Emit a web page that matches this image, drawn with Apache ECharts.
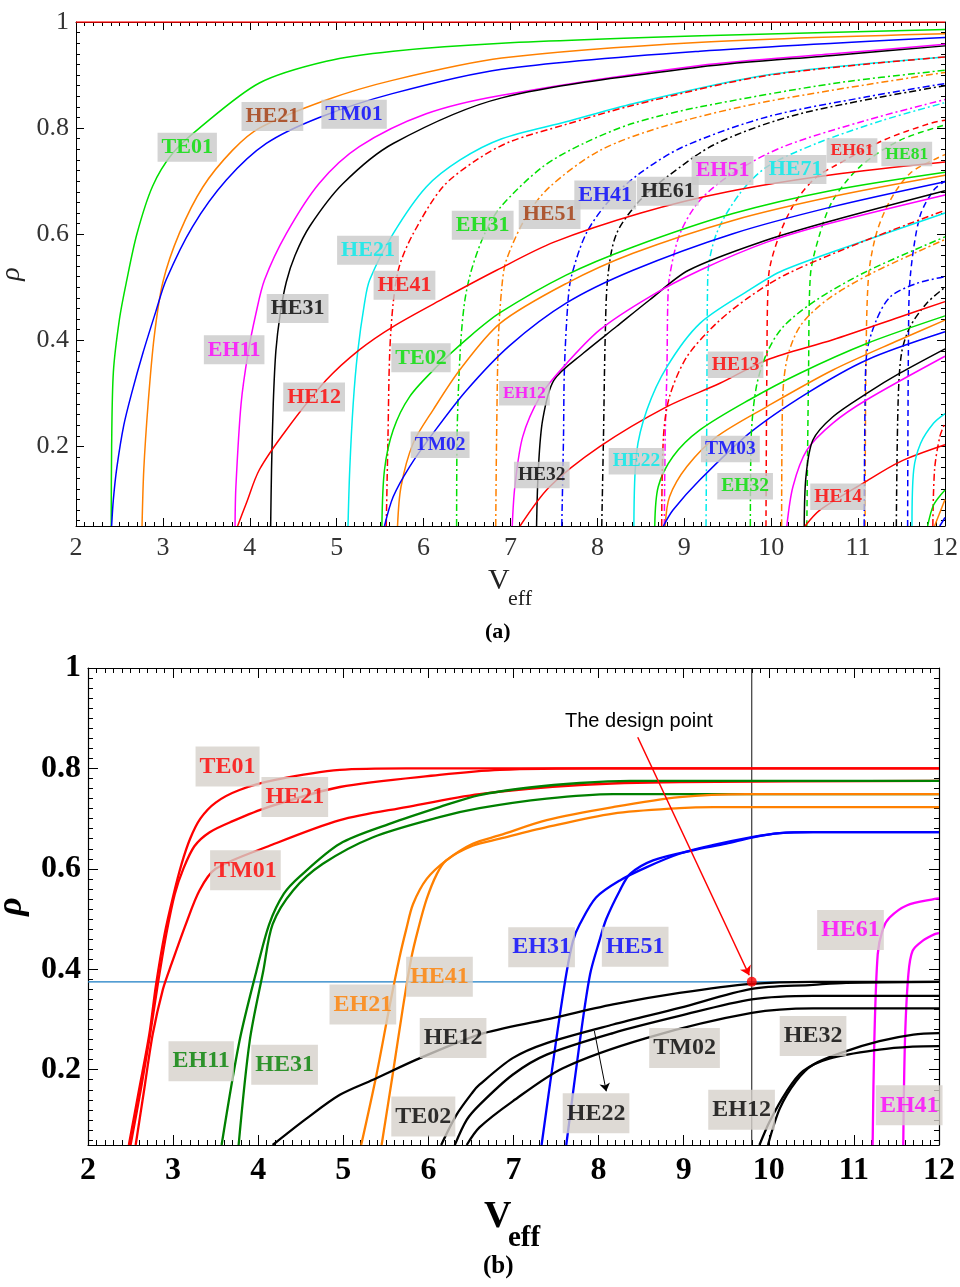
<!DOCTYPE html>
<html><head><meta charset="utf-8">
<script src="https://cdn.jsdelivr.net/npm/echarts@6.0.0/dist/echarts.min.js"></script>
<style>html,body{margin:0;padding:0;background:#fff}#c{width:960px;height:1287px}</style>
</head><body><div id="c"></div>
<script>
// ---------- axis ticks ----------
const xTickLabels = [2,3,4,5,6,7,8,9,10,11,12];
const yTickLabels = [0.2,0.4,0.6,0.8,1];
const yMinorTicks = [];
for (let i = 3; i <= 50; i++) { const v = Math.round(i*2)/100; if (yTickLabels.indexOf(v) < 0) yMinorTicks.push(v); }

// ---------- panel (a) curves [Veff, rho] ----------
const a_TE01 = [[2.405,0.05],[2.41,0.2],[2.43,0.34],[2.5,0.44],[2.58,0.51],[2.7,0.6],[2.88,0.69],[3.11,0.752],[3.42,0.8],[4.11,0.885],[4.88,0.926],[5.65,0.945],[6.9,0.96],[9.2,0.974],[12,0.986]];
const a_HE21 = [[2.76,0.05],[2.78,0.156],[2.83,0.281],[2.9,0.407],[3.0,0.51],[3.19,0.602],[3.46,0.689],[3.8,0.758],[4.11,0.8],[4.88,0.853],[5.64,0.89],[6.9,0.932],[9.2,0.962],[12,0.978]];
const a_TM01 = [[2.41,0.05],[2.43,0.1],[2.47,0.16],[2.55,0.24],[2.64,0.3],[2.77,0.376],[2.92,0.455],[3.04,0.515],[3.34,0.614],[3.73,0.702],[4.19,0.771],[4.8,0.82],[5.64,0.865],[6.9,0.911],[9.18,0.945],[12,0.971]];
const a_EH11 = [[3.83,0.05],[3.84,0.124],[3.9,0.281],[3.98,0.376],[4.07,0.45],[4.17,0.514],[4.42,0.601],[4.8,0.696],[5.26,0.765],[6.03,0.827],[6.9,0.862],[9.18,0.918],[10.71,0.94],[12,0.958]];
const a_HE31 = [[4.24,0.05],[4.25,0.156],[4.27,0.281],[4.3,0.38],[4.35,0.45],[4.42,0.51],[4.52,0.56],[4.69,0.615],[5.07,0.695],[5.65,0.771],[6.9,0.857],[9.18,0.915],[10.71,0.937],[12,0.955]];
const a_HE21c = [[5.13,0.05],[5.15,0.156],[5.19,0.281],[5.24,0.376],[5.32,0.47],[5.38,0.514],[5.65,0.601],[6.03,0.689],[6.42,0.74],[6.9,0.78],[7.64,0.812],[8.41,0.846],[9.95,0.9],[12,0.934]];
const a_HE41 = [[5.57,0.05],[5.59,0.218],[5.61,0.376],[5.65,0.47],[5.72,0.539],[5.88,0.601],[6.22,0.689],[6.61,0.74],[6.99,0.774],[7.64,0.807],[8.41,0.843],[9.95,0.899],[12,0.934]];
const a_EH31 = [[6.38,0.05],[6.385,0.218],[6.42,0.376],[6.47,0.47],[6.55,0.532],[6.7,0.6],[6.88,0.65],[7.37,0.727],[7.84,0.771],[8.41,0.809],[9.18,0.84],[10.71,0.884],[12,0.909]];
const a_HE51 = [[6.83,0.05],[6.84,0.218],[6.86,0.4],[6.9,0.5],[6.95,0.55],[7.18,0.633],[7.45,0.689],[8.03,0.758],[8.8,0.805],[9.95,0.85],[12,0.905]];
const a_EH41 = [[7.59,0.05],[7.61,0.218],[7.62,0.344],[7.66,0.47],[7.7,0.52],[7.87,0.601],[8.14,0.664],[8.49,0.715],[8.99,0.765],[9.95,0.821],[11.1,0.859],[12,0.884]];
const a_HE61 = [[8.05,0.05],[8.07,0.218],[8.09,0.407],[8.12,0.52],[8.22,0.601],[8.49,0.664],[8.8,0.708],[9.37,0.771],[10.33,0.827],[12,0.88]];
const a_EH51 = [[8.77,0.05],[8.78,0.218],[8.8,0.344],[8.81,0.47],[8.83,0.52],[8.95,0.601],[9.18,0.664],[9.56,0.715],[10.14,0.765],[11.1,0.815],[12,0.854]];
const a_HE71 = [[9.25,0.05],[9.26,0.281],[9.27,0.52],[9.37,0.601],[9.64,0.677],[9.95,0.727],[10.52,0.771],[11.29,0.815],[12,0.848]];
const a_EH61 = [[9.94,0.05],[9.95,0.344],[9.97,0.52],[10.1,0.601],[10.29,0.664],[10.52,0.708],[10.71,0.727],[11.29,0.777],[11.83,0.809],[12,0.815]];
const a_HE81 = [[10.41,0.05],[10.43,0.344],[10.45,0.52],[10.56,0.601],[10.71,0.664],[11.02,0.727],[11.48,0.777],[12,0.806]];
const a_ORda = [[11.08,0.05],[11.09,0.344],[11.12,0.52],[11.21,0.601],[11.37,0.664],[11.6,0.715],[11.94,0.746],[12,0.75]];
const a_BLda = [[11.57,0.05],[11.58,0.407],[11.6,0.52],[11.71,0.633],[11.87,0.683],[12,0.70]];
const a_BLdd = [[11.07,0.05],[11.08,0.281],[11.1,0.376],[11.21,0.438],[11.37,0.482],[11.67,0.507],[12,0.52]];
const a_BKdd = [[11.44,0.05],[11.46,0.281],[11.5,0.376],[11.6,0.426],[11.79,0.47],[12,0.50]];
const a_HE12 = [[3.86,0.05],[3.96,0.093],[4.11,0.156],[4.42,0.231],[4.88,0.325],[5.26,0.382],[5.65,0.426],[6.22,0.478],[6.84,0.532],[7.5,0.585],[8.5,0.64],[9.5,0.68],[10.7,0.712],[12,0.736]];
const a_TE02 = [[5.52,0.05],[5.55,0.156],[5.65,0.231],[5.84,0.294],[6.15,0.35],[6.53,0.407],[6.88,0.452],[7.64,0.523],[8.41,0.576],[9.56,0.639],[10.71,0.683],[12,0.717]];
const a_EH21 = [[5.7,0.05],[5.74,0.124],[5.88,0.206],[6.11,0.269],[6.42,0.345],[6.88,0.432],[7.64,0.507],[8.41,0.564],[9.56,0.626],[10.71,0.671],[12,0.711]];
const a_TM02 = [[5.55,0.05],[5.65,0.105],[5.84,0.162],[6.11,0.225],[6.49,0.305],[6.99,0.39],[7.64,0.47],[8.41,0.532],[9.56,0.601],[10.71,0.652],[12,0.699]];
const a_HE32 = [[7.30,0.05],[7.32,0.156],[7.37,0.25],[7.5,0.325],[7.84,0.376],[8.22,0.426],[8.6,0.476],[9.05,0.532],[9.95,0.589],[10.71,0.626],[12,0.682]];
const a_EH12 = [[7.02,0.05],[7.05,0.124],[7.14,0.218],[7.34,0.294],[7.61,0.35],[8.03,0.42],[8.6,0.482],[9.18,0.532],[9.95,0.585],[10.71,0.622],[12,0.674]];
const a_HE13 = [[7.11,0.05],[7.45,0.124],[8.03,0.2],[8.8,0.275],[9.41,0.319],[9.95,0.363],[10.71,0.401],[11.48,0.444],[12,0.473]];
const a_TE03 = [[8.66,0.05],[8.7,0.124],[8.87,0.181],[9.18,0.231],[9.75,0.288],[10.33,0.338],[11.1,0.394],[12,0.446]];
const a_OR3 = [[8.78,0.05],[8.83,0.105],[9.03,0.162],[9.37,0.218],[9.95,0.275],[10.71,0.344],[11.48,0.401],[12,0.438]];
const a_TM03 = [[8.76,0.05],[8.87,0.08],[9.18,0.137],[9.75,0.225],[10.41,0.30],[11.1,0.363],[12,0.416]];
const a_HE22 = [[8.42,0.05],[8.45,0.187],[8.57,0.269],[8.8,0.35],[9.18,0.432],[9.75,0.495],[10.14,0.532],[11.1,0.589],[12,0.64]];
const a_RDdd2 = [[8.74,0.05],[8.76,0.218],[8.83,0.294],[9.03,0.369],[9.37,0.432],[9.75,0.482],[10.18,0.525],[11.1,0.589],[12,0.645]];
const a_EH32 = [[9.76,0.05],[9.77,0.218],[9.83,0.313],[9.95,0.376],[10.14,0.426],[10.52,0.476],[11.1,0.53],[12,0.595]];
const a_ORdd2 = [[10.12,0.05],[10.13,0.281],[10.18,0.363],[10.33,0.426],[10.64,0.476],[11.14,0.525],[12,0.59]];
const a_MG4 = [[10.18,0.05],[10.25,0.124],[10.41,0.193],[10.71,0.244],[11.1,0.288],[12,0.37]];
const a_BK4 = [[10.38,0.05],[10.4,0.143],[10.48,0.212],[10.71,0.256],[11.1,0.30],[11.48,0.338],[12,0.384]];
const a_HE14 = [[10.39,0.05],[10.56,0.08],[11.06,0.131],[11.48,0.171],[12,0.203]];
const a_CY5 = [[11.62,0.05],[11.64,0.156],[11.72,0.206],[11.87,0.244],[12,0.262]];
const a_RDdd3 = [[11.86,0.05],[11.88,0.156],[11.94,0.218],[12,0.244]];
const a_GR5 = [[11.8,0.05],[11.87,0.09],[12,0.118]];
const a_OR5 = [[11.88,0.05],[12,0.10]];
const a_BL5 = [[11.94,0.05],[12,0.066]];
const a_TOP = [[2,1],[12,1]];

// [name, Veff, rho, colour key, size key]
const a_labels = [
 ['TE01',3.28,0.764,'g','L'],['HE21',4.26,0.822,'br','L'],['TM01',5.20,0.826,'b','L'],
 ['HE21',5.36,0.57,'c','L'],['HE41',5.78,0.504,'r','L'],['EH31',6.68,0.617,'g','L'],
 ['HE51',7.45,0.637,'br','L'],['EH41',8.09,0.674,'b','L'],['HE61',8.81,0.681,'k','L'],
 ['EH51',9.44,0.72,'m','L'],['HE71',10.28,0.722,'c','L'],['EH61',10.93,0.758,'r','S'],
 ['HE81',11.56,0.751,'g','S'],['HE31',4.55,0.46,'k','L'],['EH11',3.82,0.382,'m','L'],
 ['HE12',4.74,0.293,'r','L'],['TE02',5.97,0.367,'g','L'],['TM02',6.19,0.203,'b','M'],
 ['EH12',7.16,0.30,'m','S'],['HE32',7.36,0.146,'k','M'],['HE22',8.45,0.172,'c','M'],
 ['HE13',9.59,0.354,'r','M'],['TM03',9.53,0.195,'b','M'],['EH32',9.70,0.125,'g','M'],
 ['HE14',10.77,0.105,'r','M']
];

// ---------- panel (b) curves ----------
const b_TE01 = [[2.48,0.05],[2.6,0.16],[2.72,0.27],[2.8,0.37],[2.9,0.47],[3.0,0.545],[3.1,0.61],[3.2,0.66],[3.32,0.7],[3.5,0.732],[3.78,0.757],[4.2,0.777],[4.96,0.797],[5.74,0.8],[12,0.8]];
const b_HE21 = [[2.5,0.05],[2.62,0.16],[2.73,0.27],[2.82,0.37],[2.92,0.47],[3.02,0.55],[3.12,0.6],[3.25,0.645],[3.43,0.673],[3.7,0.695],[4.1,0.722],[4.96,0.763],[6.13,0.787],[6.84,0.797],[8,0.8],[12,0.8]];
const b_TM01 = [[2.56,0.05],[2.66,0.16],[2.76,0.27],[2.88,0.36],[2.98,0.41],[3.15,0.49],[3.31,0.557],[3.5,0.6],[4.12,0.645],[4.96,0.697],[5.74,0.723],[6.6,0.749],[7.78,0.767],[8.95,0.773],[12,0.775]];
const b_EH11 = [[3.57,0.05],[3.78,0.257],[3.98,0.397],[4.13,0.49],[4.3,0.55],[4.49,0.585],[4.96,0.65],[5.55,0.69],[6.13,0.723],[6.6,0.747],[7.19,0.762],[7.78,0.771],[8.37,0.775],[12,0.775]];
const b_HE31 = [[3.77,0.05],[3.9,0.257],[4.06,0.397],[4.17,0.49],[4.41,0.557],[4.76,0.61],[5.35,0.663],[6.13,0.703],[6.6,0.721],[7.39,0.74],[8.17,0.749],[12,0.749]];
const b_EH21 = [[5.21,0.05],[5.39,0.19],[5.54,0.323],[5.66,0.423],[5.74,0.48],[5.82,0.53],[5.98,0.58],[6.21,0.617],[6.52,0.65],[6.84,0.667],[7.39,0.697],[8.17,0.723],[8.95,0.743],[9.74,0.749],[12,0.749]];
const b_HE41 = [[5.45,0.05],[5.58,0.19],[5.7,0.323],[5.8,0.423],[5.88,0.48],[5.98,0.54],[6.1,0.59],[6.21,0.617],[6.52,0.646],[6.84,0.66],[7.39,0.683],[8.17,0.71],[8.95,0.721],[9.35,0.723],[12,0.723]];
const b_EH31 = [[7.33,0.05],[7.5,0.257],[7.62,0.39],[7.7,0.457],[7.78,0.49],[7.97,0.543],[8.25,0.577],[8.56,0.603],[8.95,0.63],[9.34,0.647],[9.8,0.663],[10.13,0.671],[10.52,0.673],[12,0.673]];
const b_HE51 = [[7.62,0.05],[7.78,0.257],[7.9,0.39],[8.01,0.457],[8.09,0.5],[8.25,0.557],[8.37,0.59],[8.64,0.617],[9.11,0.637],[9.5,0.65],[9.8,0.662],[10.13,0.671],[10.52,0.673],[12,0.673]];
const b_HE61 = [[11.22,0.05],[11.24,0.257],[11.28,0.43],[11.34,0.48],[11.42,0.503],[11.62,0.527],[11.95,0.54],[12,0.541]];
const b_EH41 = [[11.58,0.05],[11.6,0.257],[11.64,0.39],[11.69,0.437],[11.81,0.457],[11.95,0.47],[12,0.472]];
const b_HE12 = [[4.17,0.05],[4.57,0.103],[4.96,0.15],[5.35,0.18],[5.9,0.223],[6.6,0.27],[7.39,0.3],[8.17,0.33],[8.95,0.353],[9.8,0.371],[10.52,0.375],[12,0.375]];
const b_TE02 = [[6.15,0.05],[6.33,0.11],[6.52,0.155],[6.6,0.17],[6.99,0.223],[7.39,0.253],[8.17,0.29],[8.95,0.323],[9.8,0.361],[10.52,0.369],[10.91,0.373],[12,0.375]];
const b_HE22 = [[6.31,0.05],[6.45,0.1],[6.6,0.13],[6.99,0.19],[7.39,0.23],[8.17,0.273],[8.95,0.307],[9.8,0.34],[10.52,0.347],[12,0.347]];
const b_TM02 = [[6.45,0.05],[6.6,0.085],[6.99,0.137],[7.58,0.203],[8.56,0.263],[9.8,0.313],[10.52,0.322],[12,0.322]];
const b_EH12 = [[9.89,0.05],[10.01,0.097],[10.21,0.157],[10.4,0.197],[10.71,0.222],[11.3,0.24],[11.69,0.246],[12,0.247]];
const b_HE32 = [[9.99,0.05],[10.13,0.123],[10.32,0.177],[10.52,0.21],[10.91,0.237],[11.3,0.257],[11.7,0.27],[12,0.273]];

const designPoint = [9.8, 0.375];
const designVLine = [[9.8,0.05],[9.8,1]];
const designHLine = [[2,0.375],[12,0.375]];
const designArrow = [[8.46,0.862],[9.77,0.388]];
const he22Arrow = [[7.95,0.277],[8.09,0.157]];
const designText = 'The design point';

const b_labels = [
 ['TE01',3.64,0.804,'r'],['HE21',4.43,0.743,'r'],['TM01',3.85,0.597,'r'],
 ['EH11',3.33,0.217,'g'],['HE31',4.31,0.21,'g'],['EH21',5.23,0.33,'o'],
 ['HE41',6.13,0.385,'o'],['HE12',6.29,0.263,'k'],['TE02',5.94,0.107,'k'],
 ['EH31',7.33,0.444,'b'],['HE51',8.43,0.445,'b'],['HE61',10.96,0.478,'m'],
 ['HE22',7.97,0.113,'k'],['TM02',9.01,0.243,'k'],['HE32',10.52,0.267,'k'],
 ['EH12',9.68,0.12,'k'],['EH41',11.65,0.129,'m']
];

// ---------- styles ----------
const CA = {g:'#00e000', o:'#ff8000', b:'#0000ff', m:'#ff00ff', k:'#000000', r:'#ff0000', c:'#00ecec', br:'#a3380a'};
const CB = {r:'#ff0000', g:'#008000', o:'#ff8000', b:'#0000ff', m:'#ff00ff', k:'#000000'};
const DASH = {s:'solid', dd:[7,3,2,3], da:[6,4]};
const SERIF = '"Liberation Serif","Times New Roman",serif';

const seriesA = [
 [a_TE01,'g','s'],[a_HE21,'o','s'],[a_TM01,'b','s'],[a_EH11,'m','s'],[a_HE31,'k','s'],
 [a_HE21c,'c','s'],[a_HE41,'r','dd'],[a_EH31,'g','dd'],[a_HE51,'o','dd'],[a_EH41,'b','dd'],
 [a_HE61,'k','dd'],[a_EH51,'m','dd'],[a_HE71,'c','dd'],[a_EH61,'r','da'],[a_HE81,'g','da'],
 [a_ORda,'o','da'],[a_BLda,'b','da'],[a_BLdd,'b','dd'],[a_BKdd,'k','dd'],
 [a_HE12,'r','s'],[a_TE02,'g','s'],[a_EH21,'o','s'],[a_TM02,'b','s'],[a_HE32,'k','s'],
 [a_EH12,'m','s'],[a_HE13,'r','s'],[a_TE03,'g','s'],[a_OR3,'o','s'],[a_TM03,'b','s'],
 [a_HE22,'c','s'],[a_RDdd2,'r','dd'],[a_EH32,'g','dd'],[a_ORdd2,'o','dd'],[a_MG4,'m','s'],
 [a_BK4,'k','s'],[a_HE14,'r','s'],[a_CY5,'c','s'],[a_RDdd3,'r','dd'],[a_GR5,'g','s'],
 [a_OR5,'o','s'],[a_BL5,'b','s'],[a_TOP,'r','s']
];
const seriesB = [
 [b_TE01,'r'],[b_HE21,'r'],[b_TM01,'r'],[b_EH11,'g'],[b_HE31,'g'],[b_EH21,'o'],[b_HE41,'o'],
 [b_EH31,'b'],[b_HE51,'b'],[b_HE61,'m'],[b_EH41,'m'],[b_HE12,'k'],[b_TE02,'k'],[b_HE22,'k'],
 [b_TM02,'k'],[b_EH12,'k'],[b_HE32,'k']
];

const series = [];
seriesA.forEach(([d,c,t]) => series.push({type:'line', xAxisIndex:0, yAxisIndex:0, data:d, showSymbol:false, smooth:0.3, silent:true, z:2,
  lineStyle:{color:CA[c], width:1.5, type:DASH[t]}}));
seriesB.forEach(([d,c]) => series.push({type:'line', xAxisIndex:2, yAxisIndex:4, data:d, showSymbol:false, smooth:0.3, silent:true, z:2,
  lineStyle:{color:CB[c], width:2.3}}));
// design point helpers
series.push({type:'line', xAxisIndex:2, yAxisIndex:4, data:designHLine, showSymbol:false, silent:true, z:1, lineStyle:{color:'#1a7cc4', width:1.2}});
series.push({type:'line', xAxisIndex:2, yAxisIndex:4, data:designVLine, showSymbol:false, silent:true, z:1, lineStyle:{color:'#111', width:1}});
series.push({type:'lines', coordinateSystem:'cartesian2d', xAxisIndex:2, yAxisIndex:4, silent:true, z:4,
  symbol:['none','arrow'], symbolSize:9, lineStyle:{color:'#ff0000', width:1.5, opacity:1},
  data:[{coords:designArrow}]});
series.push({type:'lines', coordinateSystem:'cartesian2d', xAxisIndex:2, yAxisIndex:4, silent:true, z:4,
  symbol:['none','arrow'], symbolSize:8, lineStyle:{color:'#000', width:1, opacity:1},
  data:[{coords:he22Arrow}]});
series.push({type:'scatter', xAxisIndex:2, yAxisIndex:4, data:[designPoint], symbolSize:10, silent:true, z:5,
  itemStyle:{color:'#ff0000'}});

const SZ = {L:22, M:19.5, S:17.5};
series.push({type:'scatter', xAxisIndex:0, yAxisIndex:0, symbolSize:0, silent:true, z:10,
  data: a_labels.map(l => ({value:[l[1], l[2]], name:l[0],
    label:{show:true, position:'inside', formatter:l[0], color:CA[l[3]], fontFamily:SERIF, fontWeight:'bold',
      fontSize:SZ[l[4]], backgroundColor:'#c9c9c9', padding:[4,4,3,4], lineHeight:SZ[l[4]]}}))});
series.push({type:'scatter', xAxisIndex:2, yAxisIndex:4, symbolSize:0, silent:true, z:10,
  data: b_labels.map(l => ({value:[l[1], l[2]], name:l[0],
    label:{show:true, position:'inside', formatter:l[0], color:CB[l[3]], fontFamily:SERIF, fontWeight:'bold',
      fontSize:24, backgroundColor:'#d6d1ca', padding:[9,4,7,4], lineHeight:24}}))});

// ---------- axes ----------
function xAxes(grid, labelStyle, majLen, minLen, lineW) {
  const base = {gridIndex:grid, type:'value', min:2, max:12, interval:1, splitLine:{show:false},
    axisLine:{show:true, onZero:false, lineStyle:{color:'#000', width:lineW}},
    axisTick:{show:true, inside:true, length:majLen, lineStyle:{color:'#000'}},
    minorTick:{show:true, splitNumber:10, length:minLen, lineStyle:{color:'#000'}}, minorSplitLine:{show:false}};
  return [
    Object.assign({}, base, {position:'bottom', axisLabel:Object.assign({show:true, customValues:xTickLabels}, labelStyle)}),
    Object.assign({}, base, {position:'top', axisLabel:{show:false}})
  ];
}
function yAxes(grid, labelStyle, majLen, minLen, lineW) {
  const base = {gridIndex:grid, type:'value', min:0.05, max:1, splitLine:{show:false}};
  const maj = (pos, lab) => Object.assign({}, base, {position:pos,
    axisLine:{show:true, onZero:false, lineStyle:{color:'#000', width:lineW}},
    axisTick:{show:true, inside:true, length:majLen, customValues:yTickLabels, lineStyle:{color:'#000'}},
    axisLabel: lab ? Object.assign({show:true, customValues:yTickLabels, formatter:v => (Math.abs(v-1)<1e-9 ? '1' : v.toFixed(1))}, labelStyle) : {show:false}});
  const mnr = (pos) => Object.assign({}, base, {position:pos, axisLine:{show:false},
    axisTick:{show:true, inside:true, length:minLen, customValues:yMinorTicks, lineStyle:{color:'#000'}},
    axisLabel:{show:false}});
  return [maj('left', true), mnr('left'), maj('right', false), mnr('right')];
}
const labA = {fontFamily:SERIF, fontSize:26, color:'#333', margin:9};
const labB = {fontFamily:SERIF, fontSize:32, fontWeight:'bold', color:'#000', margin:10};
const yLabA = Object.assign({}, labA, {margin:7});
const yLabB = Object.assign({}, labB, {margin:7});

const xAxis = [...xAxes(0, labA, 8, 4, 1), ...xAxes(1, labB, 10, 5, 1.2)];
const yAxis = [...yAxes(0, yLabA, 8, 4, 1), ...yAxes(1, yLabB, 10, 5, 1.2)];
yAxis[0].name = 'ρ'; yAxis[0].nameLocation = 'middle'; yAxis[0].nameGap = 47;
yAxis[0].nameTextStyle = {fontFamily:SERIF, fontStyle:'italic', fontSize:28, color:'#222'};
yAxis[4].name = 'ρ'; yAxis[4].nameLocation = 'middle'; yAxis[4].nameGap = 57;
yAxis[4].nameTextStyle = {fontFamily:SERIF, fontStyle:'italic', fontWeight:'bold', fontSize:36, color:'#000'};

const option = {
  backgroundColor:'#fff', animation:false,
  grid:[{left:76, top:22, width:869, height:504, outerBoundsMode:'none', containLabel:false},
        {left:88, top:668, width:851, height:477, outerBoundsMode:'none', containLabel:false}],
  xAxis, yAxis, series,
  graphic:[
    {type:'text', left:488, top:566, style:{text:'V', font:'30px "Liberation Serif"', fill:'#222'}},
    {type:'text', left:508, top:588, style:{text:'eff', font:'22px "Liberation Serif"', fill:'#222'}},
    {type:'text', left:485, top:621, style:{text:'(a)', font:'bold 22px "Liberation Serif"', fill:'#000'}},
    {type:'text', left:484, top:1198, style:{text:'V', font:'bold 38px "Liberation Serif"', fill:'#000'}},
    {type:'text', left:508, top:1224, style:{text:'eff', font:'bold 29px "Liberation Serif"', fill:'#000'}},
    {type:'text', left:483, top:1254, style:{text:'(b)', font:'bold 25px "Liberation Serif"', fill:'#000'}},
    {type:'text', left:565, top:711, style:{text:designText, font:'20px "Liberation Sans"', fill:'#000'}}
  ]
};
const chart = echarts.init(document.getElementById('c'), null, {renderer:'canvas', width:960, height:1287});
chart.setOption(option);
</script></body></html>
